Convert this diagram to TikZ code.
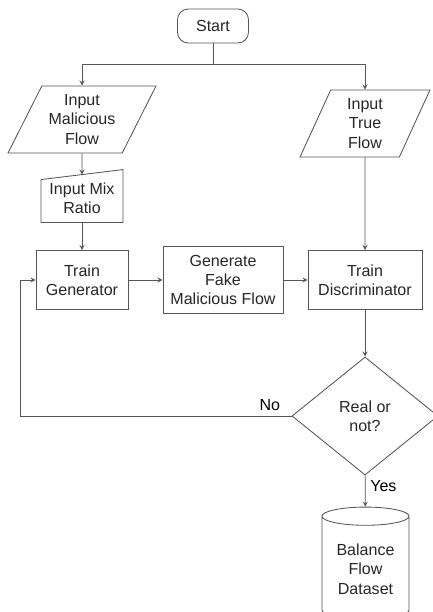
\documentclass[tikz,border=0pt]{standalone}
\usepackage{fontspec}
\setmainfont{Liberation Sans}
\usepackage{tikz}
\usetikzlibrary{shapes.geometric, shapes.misc, arrows, positioning, calc}
\definecolor{linegray}{RGB}{85,85,85}

\begin{document}
\begin{tikzpicture}[
    x=0.025cm, y=-0.025cm,
    font=\fontsize{11.4}{13.8}\selectfont,
    base/.style={draw=linegray, line width=0.6pt, text=black!85, align=center, inner sep=1pt},
    termbox/.style={base, rectangle, rounded corners=0.27cm, minimum width=1.775cm, minimum height=0.85cm},
    iobox/.style={base, trapezium, trapezium stretches=true, minimum height=1.675cm},
    procbox/.style={base, rectangle, minimum height=1.475cm},
    arrow/.style={->, >=stealth, draw=linegray, line width=0.6pt}
]
\useasboundingbox (0,0) rectangle (433,612);

\node[termbox] (start) at (213,26) {Start};
\node[iobox, trapezium left angle=61, trapezium right angle=119, minimum width=3.725cm] (mal) at (82,119.5) {Input\\Malicious\\Flow};
\node[iobox, trapezium left angle=72, trapezium right angle=108, minimum width=3.25cm] (tru) at (365,123.5) {Input\\True\\Flow};
\node[base, draw=none, minimum width=2.025cm, minimum height=1.175cm] (mix) at (82,198.5) {Input Mix\\Ratio};
\draw[linegray, line width=0.6pt] (mix.south west) -- ([yshift=-0.125cm]mix.north west) -- ([yshift=0.125cm]mix.north east) -- (mix.south east) -- cycle;
\node[procbox, minimum width=2.3cm] (tg) at (82,280) {Train\\Generator};
\node[procbox, minimum width=3cm, minimum height=1.675cm] (gf) at (223,280) {Generate\\Fake\\Malicious Flow};
\node[procbox, minimum width=2.85cm] (td) at (365,280) {Train\\Discriminator};
\node[base, diamond, minimum width=3.65cm, minimum height=2.95cm] (dec) at (365,416) {Real or\\not?};
\node[base, cylinder, shape border rotate=90, aspect=0.3, minimum width=2.175cm, minimum height=2.8cm] (cyl) at (365.5,569) {Balance\\Flow\\Dataset};

\coordinate (split) at (213,64);
\coordinate (loopx) at (20,0);

\draw[linegray, line width=0.6pt] (start) -- (split);
\draw[arrow] (split) -| (mal);
\draw[arrow] (split) -| (tru);
\draw[arrow] (mal) -- (mix);
\draw[arrow] (mix) -- (tg);
\draw[arrow] (tg) -- (gf);
\draw[arrow] (gf) -- (td);
\draw[arrow] (tru) -- (td);
\draw[arrow] (td) -- (dec);
\draw[arrow] (dec) -- node[right, pos=0.35] {Yes} (cyl);
\draw[arrow] (dec.west) -- node[above, pos=0.08] {No} (dec.west -| loopx) |- (tg.west);

\end{tikzpicture}
\end{document}
